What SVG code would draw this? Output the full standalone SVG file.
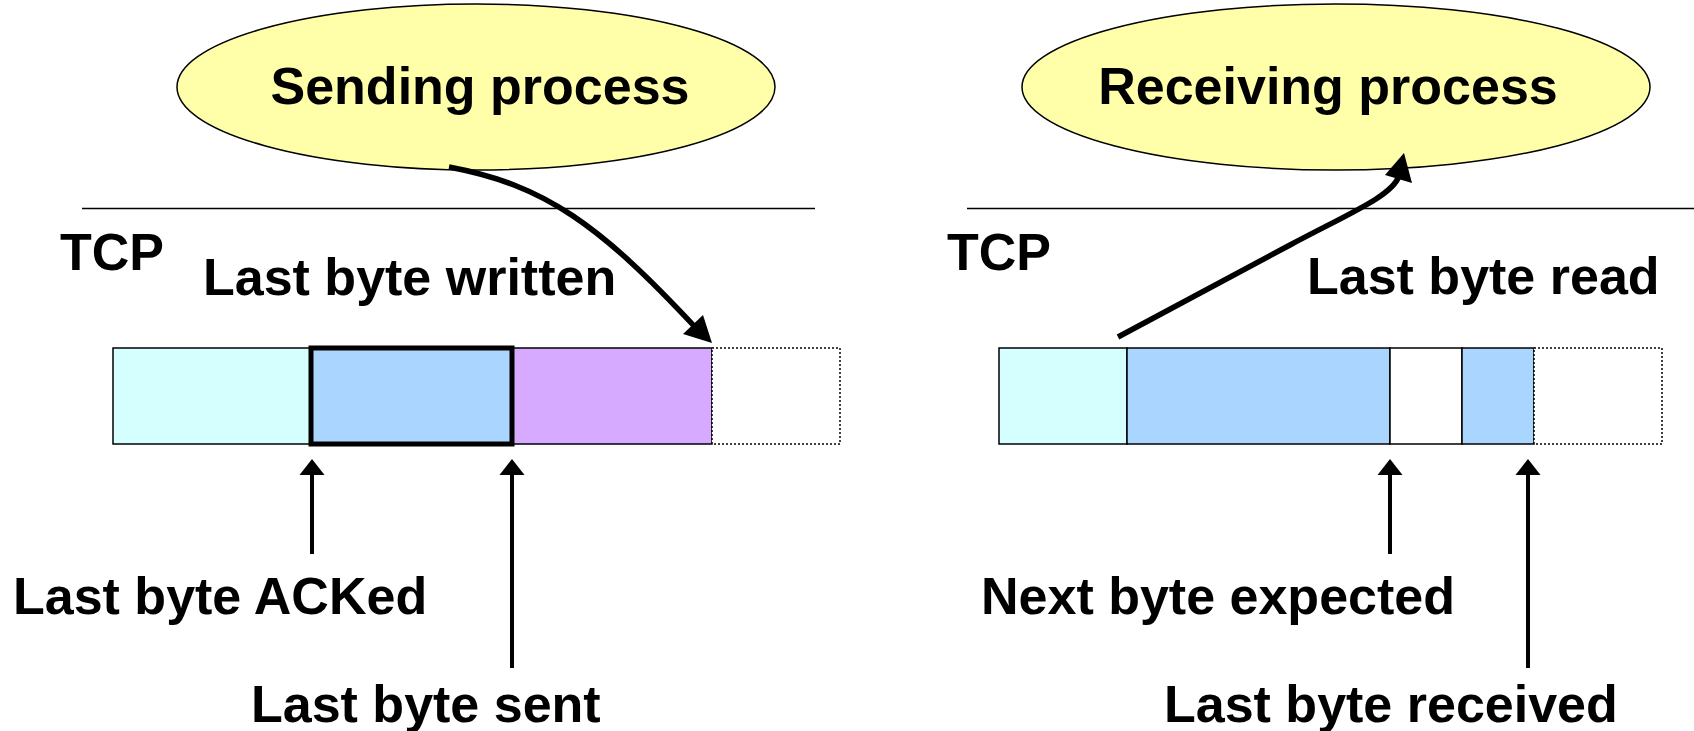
<svg xmlns="http://www.w3.org/2000/svg" width="1694" height="731" viewBox="0 0 1694 731">
<style>
.lbl{font-family:"Liberation Sans",Arial,Helvetica,sans-serif;font-weight:bold;font-size:52px;fill:#000}
.proc{fill:#FFFFAA;stroke:#000;stroke-width:1.5}
.seg{stroke:#000;stroke-width:1.5}
.dot{fill:#fff;stroke:#000;stroke-width:1.5;stroke-dasharray:2,2}
.sep{stroke:#000;stroke-width:1.5}
.curve{fill:none;stroke:#000;stroke-width:5.5}
.ptr{fill:none;stroke:#000;stroke-width:4}
.head{fill:#000;stroke:none}
</style>
<defs>
<path id="upHead" d="M0,0 L12.5,16 L-12.5,16 Z"/>
</defs>
<rect width="1694" height="731" fill="#fff"/>

<g id="sending-process">
<ellipse class="proc" cx="476" cy="87" rx="299" ry="83"/>
<text class="lbl" x="480" y="104" text-anchor="middle">Sending process</text>
</g>
<g id="receiving-process">
<ellipse class="proc" cx="1336" cy="87" rx="314" ry="83"/>
<text class="lbl" x="1328" y="104" text-anchor="middle">Receiving process</text>
</g>

<g id="separators">
<line class="sep" x1="82" y1="208.5" x2="815" y2="208.5"/>
<line class="sep" x1="967" y1="208.5" x2="1694" y2="208.5"/>
</g>

<g id="tcp-labels">
<text class="lbl" x="60" y="270">TCP</text>
<text class="lbl" x="947" y="270">TCP</text>
</g>

<g id="send-buffer">
<rect class="seg" x="113" y="348" width="198" height="96" fill="#D5FFFF"/>
<rect class="seg" x="512" y="348" width="200" height="96" fill="#D5AAFF"/>
<rect class="dot" x="712" y="348" width="128" height="96"/>
<rect x="311" y="348" width="201" height="96" fill="#AAD5FF" stroke="#000" stroke-width="5"/>
</g>

<g id="recv-buffer">
<rect class="seg" x="999" y="348" width="128" height="96" fill="#D5FFFF"/>
<rect class="seg" x="1127" y="348" width="263" height="96" fill="#AAD5FF"/>
<rect class="seg" x="1390" y="348" width="72" height="96" fill="#FFFFFF"/>
<rect class="seg" x="1462" y="348" width="72" height="96" fill="#AAD5FF"/>
<rect class="dot" x="1534" y="348" width="128" height="96"/>
</g>

<g id="connectors">
<path class="curve" d="M449,167 C545,185 600,225 696,328"/>
<polygon class="head" points="712,343 683,334 703,315"/>
<path class="curve" d="M1118,337 L1290,245 C1350,213 1392,196 1399,176"/>
<polygon class="head" points="1404,153 1385,175 1412,183"/>
<line class="ptr" x1="312" y1="554" x2="312" y2="472"/>
<use href="#upHead" class="head" x="312" y="459"/>
<line class="ptr" x1="512" y1="668" x2="512" y2="472"/>
<use href="#upHead" class="head" x="512" y="459"/>
<line class="ptr" x1="1390" y1="554" x2="1390" y2="472"/>
<use href="#upHead" class="head" x="1390" y="459"/>
<line class="ptr" x1="1528" y1="668" x2="1528" y2="472"/>
<use href="#upHead" class="head" x="1528" y="459"/>
</g>

<g id="pointer-labels">
<text class="lbl" x="203" y="295">Last byte written</text>
<text class="lbl" x="1307" y="294">Last byte read</text>
<text class="lbl" x="13" y="614">Last byte ACKed</text>
<text class="lbl" x="251" y="722">Last byte sent</text>
<text class="lbl" x="981" y="614">Next byte expected</text>
<text class="lbl" x="1164" y="722">Last byte received</text>
</g>
</svg>
